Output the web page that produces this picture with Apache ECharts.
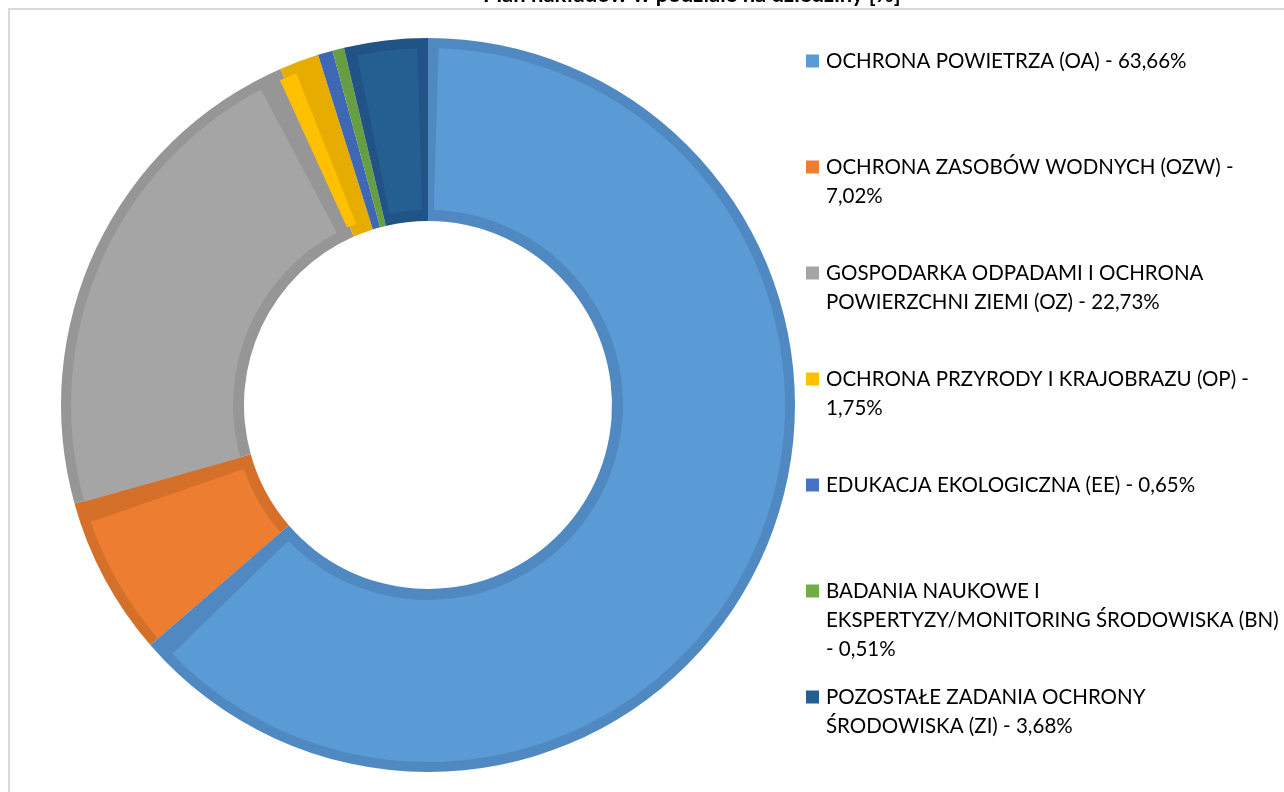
<!DOCTYPE html>
<html>
<head>
<meta charset="utf-8">
<script src="https://cdn.jsdelivr.net/npm/echarts@6/dist/echarts.min.js"></script>
<style>
  html, body { margin: 0; padding: 0; background: #fff; overflow: hidden; }
  #frame { position: absolute; left: 8px; top: 8px; width: 1400px; height: 900px; border: 2px solid #d9d9d9; }
  #chart { position: absolute; left: 0; top: 0; width: 1284px; height: 792px; }
</style>
</head>
<body>
<div id="frame"></div>
<div id="chart"></div>
<script>
// dziedziny (tekst jak w legendzie, z łamaniem linii)
const names = [
  'OCHRONA POWIETRZA (OA)',
  'OCHRONA ZASOBÓW WODNYCH (OZW)',
  'GOSPODARKA ODPADAMI I OCHRONA\nPOWIERZCHNI ZIEMI (OZ)',
  'OCHRONA PRZYRODY I KRAJOBRAZU (OP)',
  'EDUKACJA EKOLOGICZNA (EE)',
  'BADANIA NAUKOWE I\nEKSPERTYZY/MONITORING ŚRODOWISKA (BN)',
  'POZOSTAŁE ZADANIA OCHRONY\nŚRODOWISKA (ZI)',
]
const values = [63.66, 7.02, 22.73, 1.75, 0.65, 0.51, 3.68]
// separator między nazwą a wartością (gdzie Excel zawinął tekst)
const seps = [' - ', ' -\n', ' - ', ' -\n', ' - ', '\n- ', ' - ']

const fillColors = ['#5B9BD5', '#ED7D31', '#A5A5A5', '#FFC000', '#4472C4', '#70AD47', '#255E91']
const edgeColors = ['#5089C1', '#D5702B', '#969696', '#E6AD00', '#3E68B3', '#669E41', '#215386']

const fmt = (v) => v.toFixed(2).replace('.', ',') + '%'
const legendText = names.map((n, i) => n + seps[i] + fmt(values[i]))

const chart = echarts.init(document.getElementById('chart'))

const FONT = 'Lato, "Noto Sans", sans-serif'
const LH = 29
const firstLineY = 61
const step = 106

// osobna legenda dla każdej pozycji, żeby odstępy były równe jak w Excelu;
// puste linie na początku przesuwają tekst tak, by ikona stała przy pierwszej linii
const legends = names.map((n, i) => {
  const lines = legendText[i].split('\n').length
  const text = ' \n'.repeat(lines - 1) + legendText[i]
  return {
    orient: 'vertical',
    left: 806,
    top: firstLineY + step * i - (LH * (2 * lines - 1)) / 2,
    padding: 0,
    itemWidth: 13,
    itemHeight: 13,
    icon: 'rect',
    selectedMode: false,
    data: [n],
    formatter: () => text,
    textStyle: {
      fontFamily: FONT,
      fontSize: 20.5,
      color: '#000',
      lineHeight: LH,
      padding: [0, 0, 0, 2],
    },
  }
})

chart.setOption({
  animation: false,
  title: {
    text: 'Plan nakładów w podziale na dziedziny [%]',
    left: 478,
    top: -21,
    textStyle: { fontFamily: FONT, fontSize: 22, fontWeight: 'bold', color: '#000' },
  },
  legend: legends,
  series: [
    {
      // jasne wypełnienie (wewnątrz obramowania)
      name: 'wypelnienie',
      type: 'pie',
      z: 3,
      center: [428, 405],
      radius: [195, 357],
      startAngle: 90,
      padAngle: 3.4,
      label: { show: false },
      labelLine: { show: false },
      emphasis: { disabled: true },
      data: names.map((n, i) => ({ name: n, value: values[i], itemStyle: { color: fillColors[i] } })),
    },
    {
      // ciemniejsze obramowanie segmentów
      name: 'obramowanie',
      type: 'pie',
      z: 2,
      center: [428, 405],
      radius: [184, 367],
      startAngle: 90,
      label: { show: false },
      labelLine: { show: false },
      emphasis: { disabled: true },
      data: names.map((n, i) => ({ name: n, value: values[i], itemStyle: { color: edgeColors[i] } })),
    },
  ],
})
</script>
</body>
</html>
